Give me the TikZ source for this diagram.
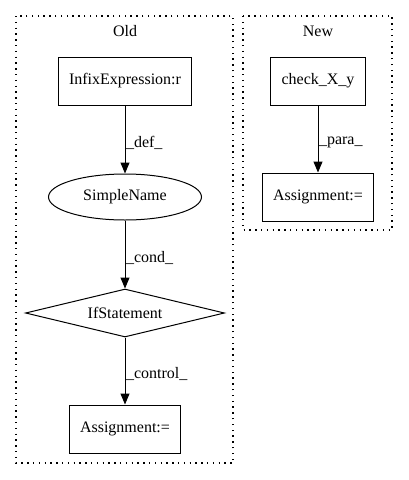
\documentclass[tikz,border=0pt]{standalone}
\usepackage{fontspec}
\setmainfont{Liberation Serif}
\usetikzlibrary{shapes.geometric,positioning,arrows.meta}

\tikzset{
  box/.style={draw, rectangle, minimum height=48pt, inner xsep=11pt},
  oval/.style={draw, ellipse, minimum width=153pt, minimum height=46pt},
  test/.style={draw, diamond, aspect=4, inner sep=0pt, minimum width=199pt, minimum height=48pt},
  cluster/.style={draw, dash pattern=on 1.4pt off 4.4pt, line width=1.2pt},
  flow/.style={-{Triangle[length=11pt,width=9pt]}, line width=1pt},
  lbl/.style={anchor=west, inner sep=0.5pt, pos=0.55}
}

\begin{document}
\begin{tikzpicture}[x=1pt,y=-1pt,node distance=116pt,on grid,auto,
    font=\fontsize{16}{18}\selectfont, line width=1pt]
  \useasboundingbox (0,0) rectangle (408,480);
  % clusters
  \draw[cluster] (16,16) rectangle (233,463);
  \draw[cluster] (243,16) rectangle (392,230);
  \node (old) at (125,31) {Old};
  \node (new) at (318,31) {New};

  % old version
  \node[box] (infix) at (125,81) {InfixExpression:r};
  \node[oval] (simple) [below=of infix] {SimpleName};
  \node[test] (ifst) [below=of simple] {IfStatement};
  \node[box] (assign_old) [below=of ifst] {Assignment:=};

  % new version
  \node[box] (check) at (318,81) {check\_X\_y};
  \node[box] (assign_new) [below=of check] {Assignment:=};

  \path[flow]
    (infix) edge node[lbl] {\_def\_} (simple)
    (simple) edge node[lbl] {\_cond\_} (ifst)
    (ifst) edge node[lbl] {\_control\_} (assign_old)
    (check) edge node[lbl] {\_para\_} (assign_new);
\end{tikzpicture}
\end{document}
